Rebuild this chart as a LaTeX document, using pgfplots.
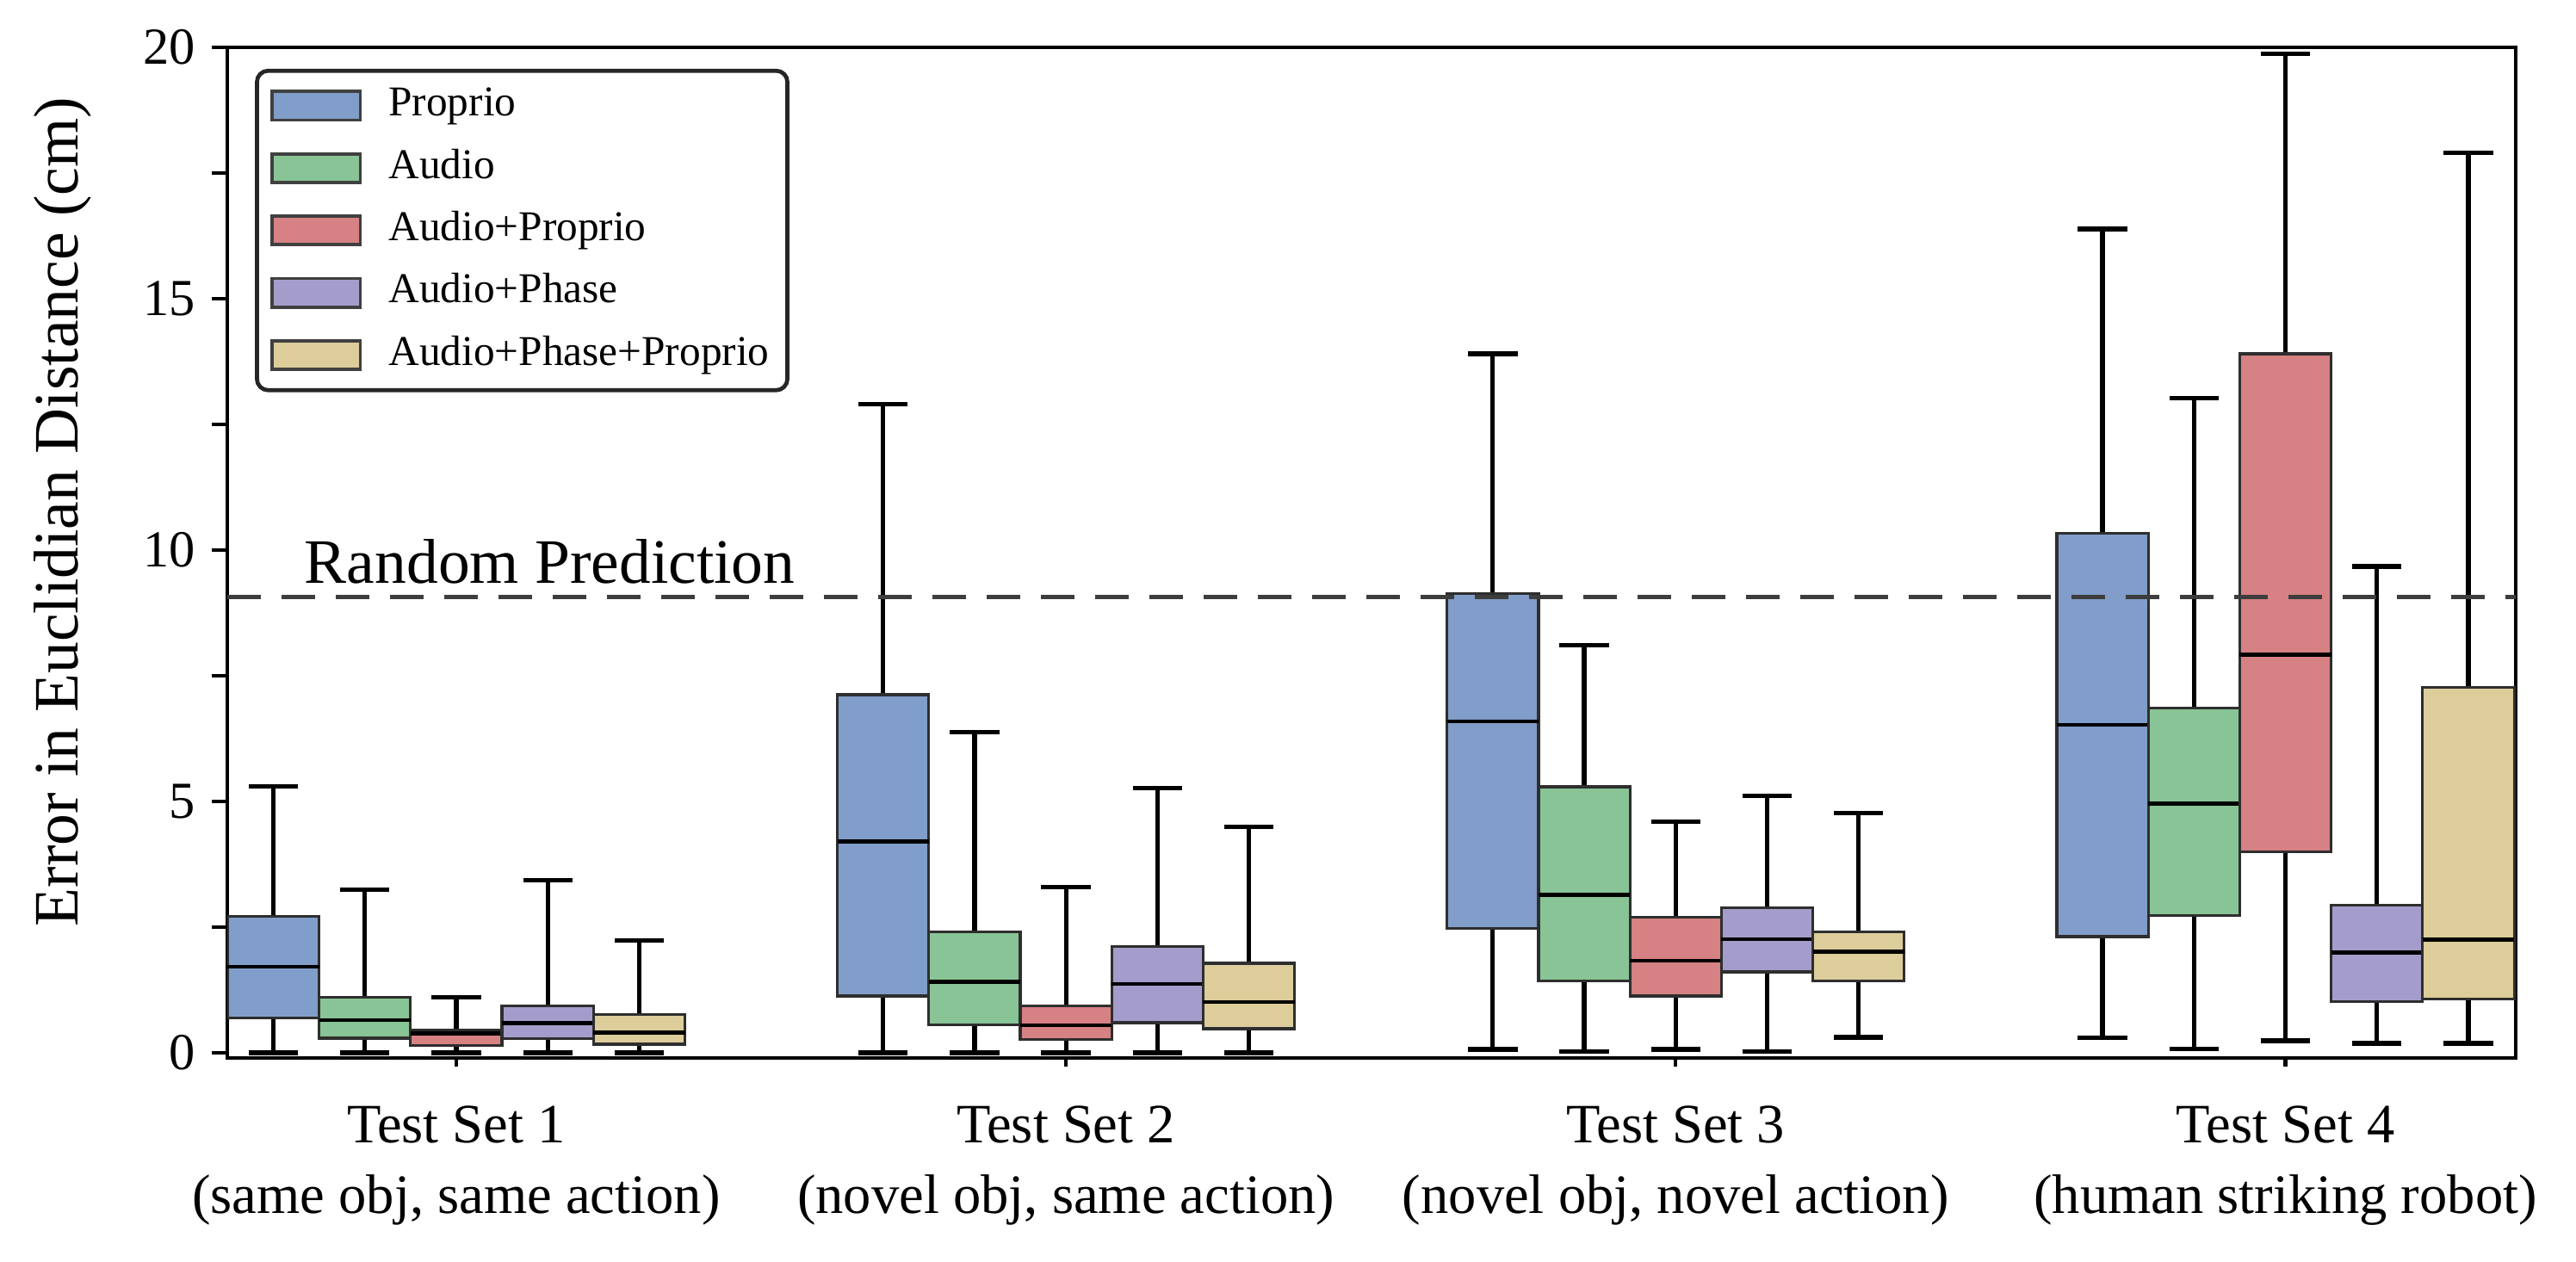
\documentclass[border=0pt]{standalone}
\usepackage{fontspec}
\setmainfont{Liberation Serif}
\usepackage{pgfplots}
\usepackage{pgfplotstable}
\pgfplotsset{compat=1.18}
\usepgfplotslibrary{statistics}

\definecolor{cP}{HTML}{819DC9}
\definecolor{cA}{HTML}{88C495}
\definecolor{cAP}{HTML}{D68184}
\definecolor{cAPh}{HTML}{A49DCB}
\definecolor{cAPP}{HTML}{DCCD9A}
\definecolor{boxedge}{HTML}{2E2E2E}
\definecolor{dashgray}{HTML}{3D3D3D}

% columns: lower whisker, lower quartile, median, upper quartile, upper whisker
% rows: Test Set 1..4
\pgfplotstableread{
lw   lq   med  uq    uw
0.00 0.70 1.71 2.71  5.30
0.00 1.13 4.20 7.12  12.90
0.07 2.48 6.59 9.13  13.90
0.30 2.31 6.52 10.33 16.38
}\tP
\pgfplotstableread{
lw   lq   med  uq   uw
0.00 0.29 0.65 1.11 3.24
0.00 0.55 1.41 2.40 6.37
0.02 1.43 3.14 5.29 8.10
0.08 2.73 4.96 6.85 13.02
}\tA
\pgfplotstableread{
lw   lq   med  uq    uw
0.00 0.15 0.38 0.45  1.11
0.00 0.26 0.55 0.93  3.29
0.07 1.13 1.83 2.70  4.59
0.24 4.00 7.92 13.90 19.87
}\tAP
\pgfplotstableread{
lw   lq   med  uq   uw
0.00 0.28 0.59 0.94 3.43
0.00 0.60 1.37 2.12 5.26
0.02 1.61 2.26 2.89 5.11
0.19 1.02 1.99 2.93 9.67
}\tAPh
\pgfplotstableread{
lw   lq   med  uq   uw
0.00 0.17 0.40 0.76 2.24
0.00 0.48 1.01 1.78 4.49
0.31 1.43 2.01 2.41 4.77
0.19 1.07 2.25 7.27 17.90
}\tAPP

\pgfplotsset{
  bxs/.style={
    boxplot/draw direction=y,
    boxplot/box extend=0.15,
    boxplot/whisker extend=0.081,
    draw=boxedge, line width=0.6pt,
    boxplot/every whisker/.style={draw=black, line width=1.0pt, fill=none},
    boxplot/every median/.style={draw=black, line width=0.9pt, fill=none},
  },
  limg/.style={legend image code/.code={
    \draw[fill=#1, draw=black!75, line width=0.7pt, sharp corners] (0pt,-3.15pt) rectangle (19.5pt,3.15pt);
    \path[draw=none, fill=none] (19.5pt,0pt) -- (24.8pt,0pt);}},
}

% #1 table, #2 row, #3 draw position, #4 colour, #5 extra options
\newcommand{\bxp}[5]{%
  \pgfplotstablegetelem{#2}{lw}\of#1\edef\vlw{\pgfplotsretval}%
  \pgfplotstablegetelem{#2}{lq}\of#1\edef\vlq{\pgfplotsretval}%
  \pgfplotstablegetelem{#2}{med}\of#1\edef\vmed{\pgfplotsretval}%
  \pgfplotstablegetelem{#2}{uq}\of#1\edef\vuq{\pgfplotsretval}%
  \pgfplotstablegetelem{#2}{uw}\of#1\edef\vuw{\pgfplotsretval}%
  \edef\doplot{\noexpand\addplot[bxs, fill=#4, boxplot prepared={lower whisker=\vlw, lower quartile=\vlq, median=\vmed, upper quartile=\vuq, upper whisker=\vuw, draw position=#3}, #5] coordinates {};}%
  \doplot}

\begin{document}
\begin{tikzpicture}
\begin{axis}[
  name=ax,
  scale only axis,
  width=506.4pt, height=223.7pt,
  xmin=-0.3755, xmax=3.378, ymin=-0.10, ymax=20,
  axis line style={black, line width=0.8pt},
  xtick=\empty,
  extra x ticks={0,1,2,3},
  extra x tick labels={{Test Set 1\\(same obj, same action)},{Test Set 2\\(novel obj, same action)},{Test Set 3\\(novel obj, novel action)},{Test Set 4\\(human striking robot)}},
  extra x tick style={major tick length=2pt},
  xtick pos=left, ytick pos=left,
  tick align=outside,
  major tick length=3.5pt, minor tick length=3.5pt,
  tick style={black, line width=0.8pt},
  ytick={0,5,10,15,20},
  minor ytick={2.5,7.5,12.5,17.5},
  /pgf/number format/assume math mode=true,
  yticklabel style={font=\fontsize{11.5}{13}\selectfont},
  xticklabel style={align=center, font=\fontsize{12.3}{15.6}\selectfont, yshift=-5.2pt},
  ylabel={Error in Euclidian Distance (cm)},
  ylabel style={font=\fontsize{14}{16}\selectfont, at={(axis description cs:-0.072,0.540)}, anchor=center},
  legend cell align=left,
  legend style={at={(axis description cs:0,1)}, anchor=north west, xshift=6.1pt, yshift=-4.8pt,
    draw=black!85, line width=0.9pt, rounded corners=2.5pt,
    font=\fontsize{9.4}{11}\selectfont, inner xsep=3pt, inner ysep=2pt, row sep=2.3pt,
    nodes={inner sep=1pt, text height=7pt, text depth=2.5pt}},
]
% Proprio
\bxp{\tP}{0}{-0.30}{cP}{limg=cP}
\addlegendentry{Proprio}
\bxp{\tP}{1}{0.70}{cP}{forget plot}
\bxp{\tP}{2}{1.70}{cP}{forget plot}
\bxp{\tP}{3}{2.70}{cP}{forget plot}
% Audio
\bxp{\tA}{0}{-0.15}{cA}{limg=cA}
\addlegendentry{Audio}
\bxp{\tA}{1}{0.85}{cA}{forget plot}
\bxp{\tA}{2}{1.85}{cA}{forget plot}
\bxp{\tA}{3}{2.85}{cA}{forget plot}
% Audio+Proprio
\bxp{\tAP}{0}{0}{cAP}{limg=cAP}
\addlegendentry{Audio+Proprio}
\bxp{\tAP}{1}{1}{cAP}{forget plot}
\bxp{\tAP}{2}{2}{cAP}{forget plot}
\bxp{\tAP}{3}{3}{cAP}{forget plot}
% Audio+Phase
\bxp{\tAPh}{0}{0.15}{cAPh}{limg=cAPh}
\addlegendentry{Audio+Phase}
\bxp{\tAPh}{1}{1.15}{cAPh}{forget plot}
\bxp{\tAPh}{2}{2.15}{cAPh}{forget plot}
\bxp{\tAPh}{3}{3.15}{cAPh}{forget plot}
% Audio+Phase+Proprio
\bxp{\tAPP}{0}{0.30}{cAPP}{limg=cAPP}
\addlegendentry{Audio+Phase+Proprio}
\bxp{\tAPP}{1}{1.30}{cAPP}{forget plot}
\bxp{\tAPP}{2}{2.30}{cAPP}{forget plot}
\bxp{\tAPP}{3}{3.30}{cAPP}{forget plot}
% random prediction
\addplot[draw=dashgray, line width=1.0pt, dash pattern=on 7.5pt off 4.5pt, forget plot] coordinates {(-0.3755,9.07) (3.378,9.07)};
\node[anchor=base west, inner sep=0pt, font=\fontsize{14}{16}\selectfont] at (axis cs:-0.250,9.34) {Random Prediction};
\end{axis}
\pgfresetboundingbox
\path[use as bounding box] ([shift={(-50.3pt,-45.0pt)}]ax.south west) rectangle ([shift={(13.3pt,10.4pt)}]ax.north east);
\end{tikzpicture}
\end{document}
